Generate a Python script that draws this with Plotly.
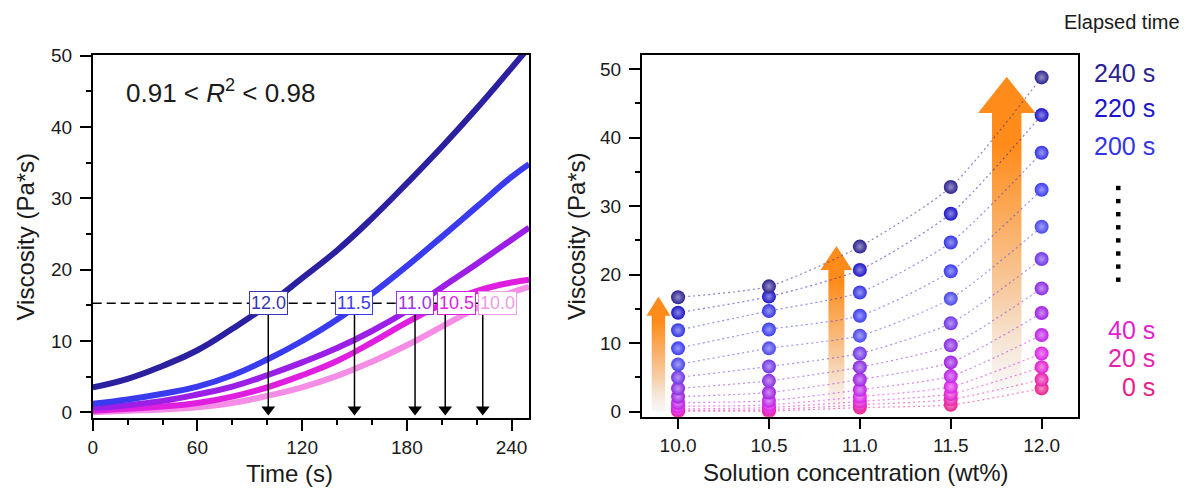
import plotly.graph_objects as go

# ---------------- Left panel data: viscosity vs time ----------------
time_left = [0, 20, 40, 60, 80, 100, 120, 140, 160, 180, 200, 220, 240, 250]
visc_t_12_0 = [3.5, 4.7, 6.5, 8.7, 11.7, 15.0, 18.8, 22.7, 27.2, 32.1, 37.2, 42.6, 48.3, 51.2]
visc_t_11_5 = [1.2, 1.8, 2.6, 3.6, 5.2, 7.4, 10.0, 13.0, 16.6, 20.5, 24.6, 28.8, 33.0, 34.8]
visc_t_11_0 = [0.6, 1.0, 1.6, 2.5, 3.6, 5.2, 7.0, 9.0, 11.4, 14.2, 17.5, 20.8, 24.2, 25.9]
visc_t_10_5 = [0.2, 0.5, 0.8, 1.3, 2.2, 3.5, 5.2, 7.2, 9.8, 12.6, 15.1, 17.0, 18.2, 18.6]
visc_t_10_0 = [0.0, 0.2, 0.4, 0.7, 1.3, 2.3, 3.5, 5.1, 7.1, 9.4, 12.0, 14.6, 16.8, 17.6]
curve_labels = ["12.0", "11.5", "11.0", "10.5", "10.0"]
cross_level = 15.3
cross_times = [100.6, 150.0, 184.7, 202.0, 223.5]
r2_text = "0.91 &lt; <i>R</i><sup>2</sup> &lt; 0.98"

# ---------------- Right panel data: viscosity vs concentration ----------------
concentrations = [10.0, 10.5, 11.0, 11.5, 12.0]
elapsed = [0, 20, 40, 60, 80, 100, 120, 140, 160, 180, 200, 220, 240]
col_10_0 = [0.1, 0.2, 0.4, 0.8, 1.3, 2.2, 3.4, 5.0, 6.9, 9.25, 11.9, 14.45, 16.7]
col_10_5 = [0.1, 0.3, 0.6, 1.0, 1.6, 2.8, 4.5, 6.6, 9.25, 12.0, 14.7, 16.8, 18.3]
col_11_0 = [0.6, 1.0, 1.5, 2.2, 3.2, 4.7, 6.5, 8.5, 11.1, 14.0, 17.4, 20.7, 24.1]
col_11_5 = [1.0, 1.8, 2.6, 3.65, 5.2, 7.2, 9.7, 12.9, 16.5, 20.5, 24.7, 28.9, 32.8]
col_12_0 = [3.4, 4.7, 6.5, 8.5, 11.2, 14.4, 18.0, 22.3, 27.0, 32.4, 37.8, 43.3, 48.8]
legend_shown = [240, 220, 200, 40, 20, 0]

# ---------------- styles ----------------
W, H = 1185, 488
FONT = "Liberation Sans"
TXT = "#1a1a1a"
curve_colors = ["#2a20a0", "#3a3aee", "#9b1fe6", "#e01ee0", "#f58ce6"]
label_colors = ["#3a35b0", "#3c3cf0", "#a030e8", "#e020e0", "#f09ce8"]
time_colors = ["#e8208c", "#e81fae", "#e21fcf", "#dc20e6", "#c020e8", "#a020e4",
               "#8a2ae2", "#7034e8", "#4a46ea", "#3a3af2", "#3434e4", "#1c14c8", "#2a2290"]
# arrow style per column index: (column, x offset, shaft half width, head half width, head length)
arrow_styles = [(0, -0.108, 0.037, 0.066, 2.8), (2, -0.129, 0.044, 0.087, 3.5), (4, -0.192, 0.081, 0.158, 5.3)]


def px_x(p):
    return p / W


def px_y(p):
    return 1 - p / H


def lighten(hexc, f):
    h = hexc.lstrip("#")
    r, g, b = int(h[0:2], 16), int(h[2:4], 16), int(h[4:6], 16)
    r, g, b = [int(c + (255 - c) * f) for c in (r, g, b)]
    return f"rgb({r},{g},{b})"


def rgba(hexc, a):
    h = hexc.lstrip("#")
    return f"rgba({int(h[0:2],16)},{int(h[2:4],16)},{int(h[4:6],16)},{a})"


fig = go.Figure()

# Left curves
left_series = [visc_t_12_0, visc_t_11_5, visc_t_11_0, visc_t_10_5, visc_t_10_0]
for vals, col in zip(left_series[::-1], curve_colors[::-1]):
    fig.add_trace(go.Scatter(x=time_left, y=vals, mode="lines",
                             line=dict(color=col, width=6, shape="spline", smoothing=1.3),
                             xaxis="x", yaxis="y", hoverinfo="skip"))

# Left: vertical arrows from label boxes down to the time axis
tip_center = 0.4
shaft_x, shaft_y = [], []
for t in cross_times:
    shaft_x += [t, t, None]
    shaft_y += [cross_level - 1.6, tip_center, None]
fig.add_trace(go.Scatter(x=shaft_x, y=shaft_y, mode="lines", line=dict(color="black", width=1.5),
                         xaxis="x", yaxis="y", hoverinfo="skip"))
fig.add_trace(go.Scatter(x=cross_times, y=[tip_center] * len(cross_times), mode="markers",
                         marker=dict(symbol="triangle-down", size=12, color="black", line=dict(width=0)),
                         xaxis="x", yaxis="y", hoverinfo="skip"))

# Right panel: gradient arrows
columns = [col_10_0, col_10_5, col_11_0, col_11_5, col_12_0]
for ci, off, sw, hw, hl in arrow_styles:
    cx = concentrations[ci] + off
    bot = max(min(columns[ci]) - 0.4, 0)
    top = max(columns[ci]) + 0.1
    xs = [cx - sw, cx - sw, cx - hw, cx, cx + hw, cx + sw, cx + sw, cx - sw]
    ys = [bot, top - hl, top - hl, top, top - hl, top - hl, bot, bot]
    fig.add_trace(go.Scatter(
        x=xs, y=ys, mode="lines", fill="toself", line=dict(width=0),
        fillgradient=dict(type="vertical", colorscale=[
            [0.0, "rgba(242,242,242,0.6)"], [0.3, "rgba(247,205,165,1)"],
            [0.6, "rgba(251,165,80,1)"], [0.78, "#ff8c1a"], [1.0, "#ff8c1a"]]),
        xaxis="x2", yaxis="y2", hoverinfo="skip"))

# Right panel: dotted connecting lines per elapsed time
for i, t in enumerate(elapsed):
    ys = [c[i] for c in columns]
    fig.add_trace(go.Scatter(x=concentrations, y=ys, mode="lines",
                             line=dict(color=rgba(time_colors[i], 0.55), width=1.2, dash="2px,3px",
                                       shape="spline", smoothing=0.6),
                             xaxis="x2", yaxis="y2", hoverinfo="skip"))
# Right panel: spheres
for i, t in enumerate(elapsed):
    ys = [c[i] for c in columns]
    fig.add_trace(go.Scatter(x=concentrations, y=ys, mode="markers",
                             marker=dict(size=14, color=time_colors[i], line=dict(width=0),
                                         gradient=dict(type="radial", color=lighten(time_colors[i], 0.5))),
                             xaxis="x2", yaxis="y2", hoverinfo="skip"))

tickfont = dict(family=FONT, size=19, color=TXT)
common_ax = dict(showline=True, linecolor="black", linewidth=1.5, mirror=True, showgrid=False,
                 zeroline=False, ticks="outside", tickwidth=1.5, ticklen=11, tickcolor="black",
                 tickfont=tickfont, automargin=False)

fig.update_layout(
    width=W, height=H, autosize=False, showlegend=False,
    margin=dict(l=0, r=0, t=0, b=0),
    paper_bgcolor="white", plot_bgcolor="white",
    xaxis=dict(domain=[px_x(92.7), px_x(529)], range=[0, 250], tickmode="array",
               tickvals=[0, 60, 120, 180, 240],
               minor=dict(dtick=20, tick0=0, ticks="outside", ticklen=5, tickwidth=1.5, tickcolor="black"),
               anchor="y", **common_ax),
    yaxis=dict(domain=[px_y(418), px_y(55)], range=[-0.8, 50.1], tick0=0, dtick=10,
               minor=dict(dtick=5, tick0=0, ticks="outside", ticklen=5, tickwidth=1.5, tickcolor="black"),
               anchor="x", ticklabelstandoff=4, **common_ax),
    xaxis2=dict(domain=[px_x(641.7), px_x(1078)], range=[9.8, 12.2], tickmode="array",
                tickvals=concentrations, ticktext=[f"{c:.1f}" for c in concentrations],
                anchor="y2", **common_ax),
    yaxis2=dict(domain=[px_y(416.7), px_y(55)], range=[-0.73, 52.07], tick0=0, dtick=10,
                minor=dict(dtick=5, tick0=0, ticks="outside", ticklen=5, tickwidth=1.5, tickcolor="black"),
                anchor="x2", ticklabelstandoff=4, **common_ax),
)

shapes = []
annotations = []

# dashed threshold line and label boxes
label_x = []
box_w = 23.5
for t in cross_times:
    lx = t if not label_x else max(t, label_x[-1] + box_w)
    label_x.append(lx)
shapes.append(dict(type="line", xref="x", yref="y", x0=0, x1=label_x[-1], y0=cross_level, y1=cross_level,
                   line=dict(color="black", width=1.5, dash="9px,5px")))

for lx, lab, col in zip(label_x, curve_labels, label_colors):
    annotations.append(dict(x=lx, y=cross_level, xref="x", yref="y", text=lab, showarrow=False,
                            xanchor="center", yanchor="middle",
                            bgcolor="white", bordercolor=col, borderwidth=1, borderpad=1,
                            font=dict(family=FONT, size=18, color=col)))

# R^2 text
annotations.append(dict(x=px_x(124), y=px_y(91), xref="paper", yref="paper", xanchor="left",
                        yanchor="middle", text=r2_text, showarrow=False,
                        font=dict(family=FONT, size=26, color=TXT)))

# axis titles
title_font = dict(family=FONT, size=24, color=TXT)
ttl = dict(xref="paper", yref="paper", showarrow=False, font=title_font, xanchor="center", yanchor="middle")
annotations.append(dict(x=px_x(25), y=px_y(236.5), text="Viscosity (Pa*s)", textangle=-90, **ttl))
annotations.append(dict(x=px_x(289), y=px_y(473), text="Time (s)", **ttl))
annotations.append(dict(x=px_x(576), y=px_y(236), text="Viscosity (Pa*s)", textangle=-90, **ttl))
annotations.append(dict(x=px_x(855), y=px_y(472), text="Solution concentration (wt%)", **ttl))

# elapsed time legend
annotations.append(dict(x=px_x(1182), y=px_y(22), xref="paper", yref="paper", xanchor="right",
                        yanchor="middle", text="Elapsed time", showarrow=False,
                        font=dict(family=FONT, size=20, color=TXT)))
legend_y = {240: 73, 220: 108, 200: 146, 40: 330, 20: 358, 0: 387}
for t in legend_shown:
    annotations.append(dict(x=px_x(1157), y=px_y(legend_y[t]), xref="paper", yref="paper",
                            xanchor="right", yanchor="middle", text=f"{t} s", showarrow=False,
                            font=dict(family=FONT, size=25, color=time_colors[elapsed.index(t)])))
for k in range(8):
    yc = 188 + k * 13.1
    shapes.append(dict(type="rect", xref="paper", yref="paper", x0=px_x(1116), x1=px_x(1120.5),
                       y0=px_y(yc + 2.2), y1=px_y(yc - 2.2), fillcolor="black", line=dict(width=0)))

fig.update_layout(shapes=shapes, annotations=annotations)
fig.write_html("out.html", config={"displayModeBar": False},
               post_script="document.body.style.margin='0';document.body.style.overflow='hidden';")
